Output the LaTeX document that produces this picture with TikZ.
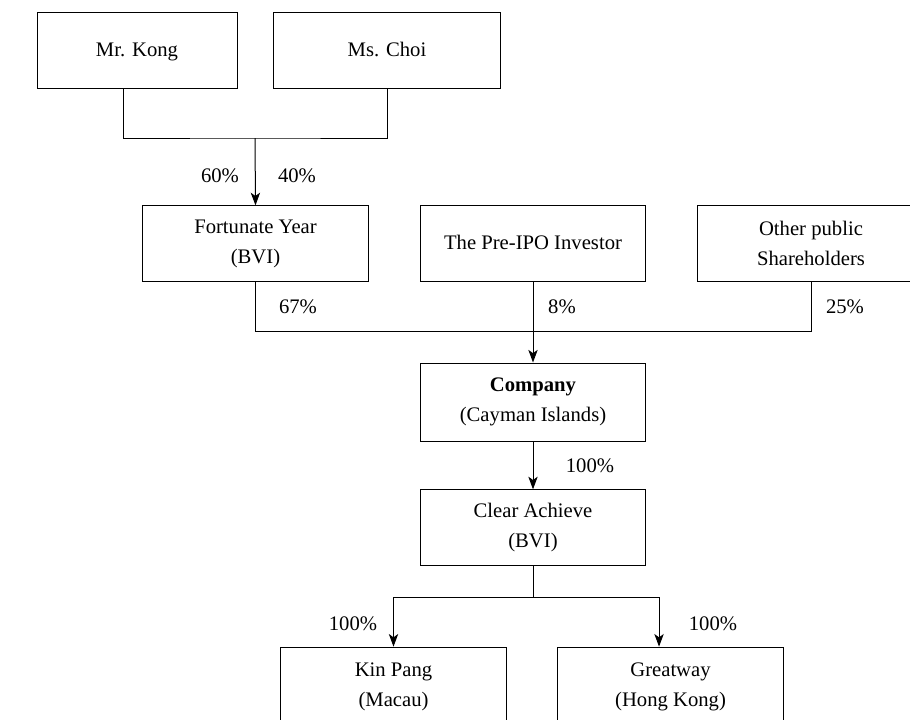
\documentclass[tikz,border=0pt]{standalone}
\usepackage{fontspec}
\setmainfont{Liberation Serif}
\usetikzlibrary{arrows.meta}
\begin{document}
\begin{tikzpicture}[x=0.75pt,y=-0.75pt,line width=0.75pt,
  entity/.style={draw,align=center,minimum height=56.5pt,inner sep=0pt,
    font=\fontsize{15.5}{22.5}\selectfont},
  share/.style={font=\fontsize{15.5}{18}\selectfont},
  own/.style={-{Stealth[length=9.5pt,width=7pt,inset=2.5pt]}}]
\useasboundingbox (0,0) rectangle (910,719);
\clip (0,0) rectangle (910,719);
% shareholders
\node[entity,minimum width=150pt] (kong) at (137,50.5) {Mr. Kong\strut};
\node[entity,minimum width=170pt] (choi) at (387,50.5) {Ms. Choi\strut};
\coordinate (join1) at (255,138);
\draw ([xshift=-10.5pt]kong.south) |- (join1) -| (choi.south);
\node[entity,minimum width=170pt] (fortunate) at (255.5,243.5) {Fortunate Year\\(BVI)};
\draw[own] (join1) -- (fortunate.north);
\node[share] (kongpct) at (220,176) {60\%};
\node[share] (choipct) at (297,176) {40\%};
\node[entity,minimum width=169pt] (preipo) at (533,243.5) {The Pre-IPO Investor\strut};
\node[entity,minimum width=171pt] (others) at (811,243.5) {Other public\\Shareholders};
% listed company
\coordinate (join2) at (533,331);
\draw (fortunate.south) |- (join2) -| (others.south);
\node[entity,minimum width=169pt,minimum height=58.5pt] (company) at (533,402) {\textbf{Company}\\(Cayman Islands)};
\draw[own] (preipo.south) -- (company.north);
\node[share] (fortunatepct) at (298,307) {67\%};
\node[share] (preipopct) at (562,307) {8\%};
\node[share] (otherspct) at (845,307) {25\%};
\node[entity,minimum width=169pt] (clear) at (533,527.5) {Clear Achieve\\(BVI)};
\draw[own] (company.south) -- (clear.north);
\node[share] (companypct) at (590,466) {100\%};
% subsidiaries
\coordinate (join3) at (533,597);
\node[entity,minimum width=170pt,minimum height=59pt] (kinpang) at (393.5,686.5) {Kin Pang\\(Macau)};
\node[entity,minimum width=170pt,minimum height=59pt] (greatway) at (670.5,686.5) {Greatway\\(Hong Kong)};
\draw (clear.south) -- (join3);
\draw[own] (join3) -| (kinpang.north);
\draw[own] (join3) -| ([xshift=-8.6pt]greatway.north);
\node[share] (kinpangpct) at (353,624) {100\%};
\node[share] (greatwaypct) at (713,624) {100\%};
\end{tikzpicture}
\end{document}
